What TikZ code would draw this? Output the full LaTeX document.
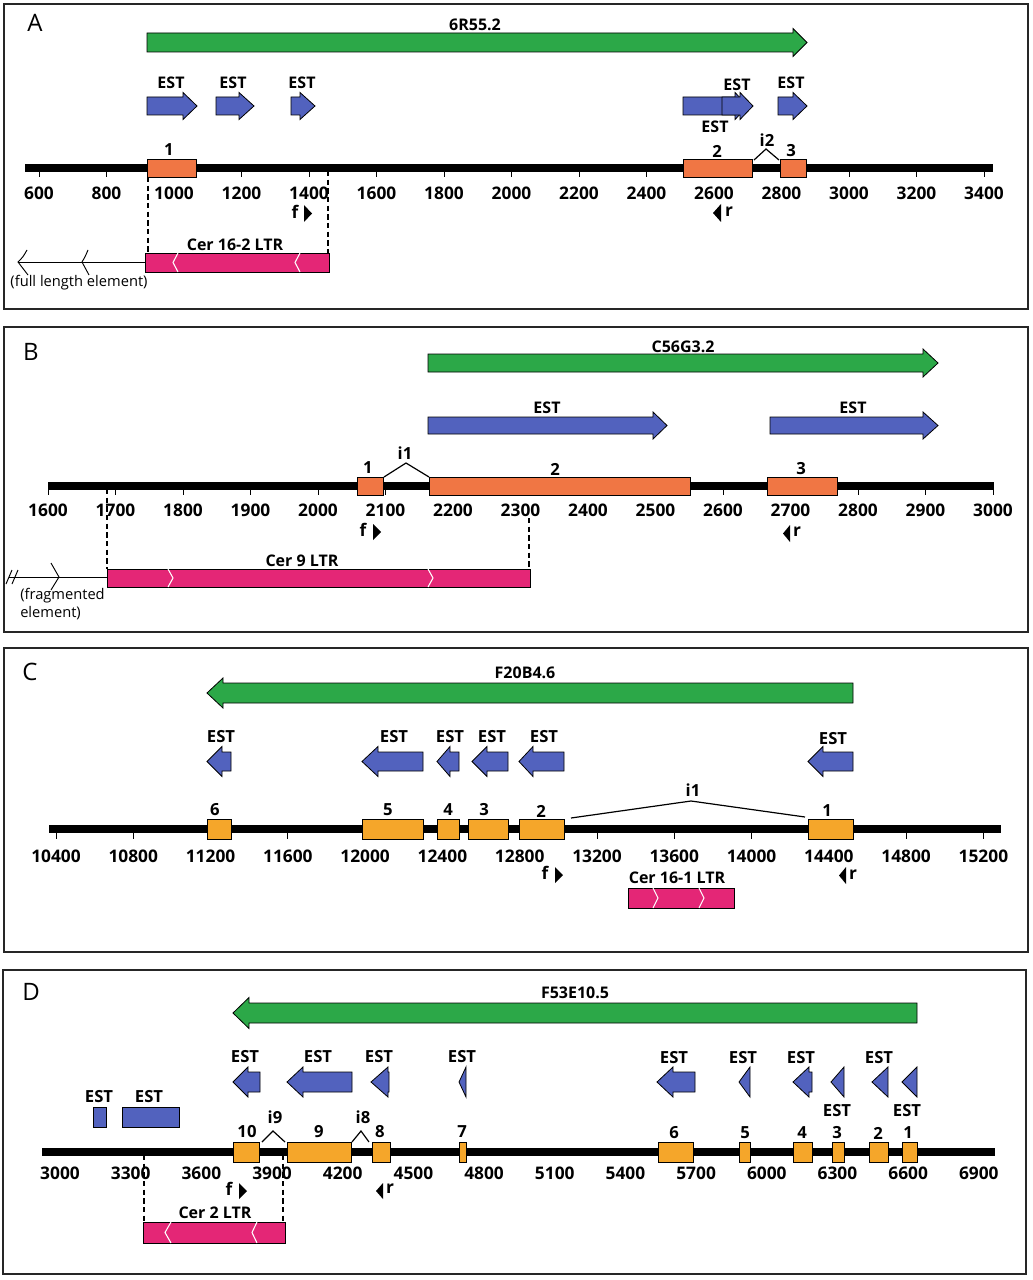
\documentclass[tikz,border=0pt]{standalone}
\usepackage{fontspec}
\setmainfont{Open Sans}
\definecolor{genec}{RGB}{44,168,72}
\definecolor{estc}{RGB}{82,98,190}
\definecolor{exa}{RGB}{240,118,68}
\definecolor{exc}{RGB}{245,166,42}
\definecolor{ltrc}{RGB}{228,38,118}
\newcommand\GArr[7][]{%
 \draw[#1] (#2,#5-#6) -- (#3,#5-#6) -- (#3,#5-#7) -- (#4,#5) -- (#3,#5+#7) -- (#3,#5+#6) -- (#2,#5+#6) -- cycle;}
\tikzset{
 frame/.style={line width=1.3pt, draw=black!85},
 gene/.style={fill=genec, draw=black, line width=0.6pt},
 est/.style={fill=estc, draw=black, line width=0.6pt},
 exonA/.style={fill=exa, draw=black, line width=0.5pt},
 exonC/.style={fill=exc, draw=black, line width=0.5pt},
 ltr/.style={fill=ltrc, draw=black, line width=0.5pt},
 chev/.style={draw=white, line width=0.8pt},
 chrom/.style={line width=5.3pt, line cap=butt},
 tickm/.style={line width=0.6pt},
 intron/.style={line width=0.9pt},
 dashv/.style={dashed, line width=0.9pt, dash pattern=on 4pt off 2.5pt},
 thinl/.style={line width=0.7pt},
 plabel/.style={font=\fontsize{18}{18}\selectfont, inner sep=0pt},
 num/.style={font=\bfseries\fontsize{13}{13}\selectfont, inner sep=0pt},
 estl/.style={font=\bfseries\fontsize{12}{12}\selectfont, inner sep=0pt},
 estd/.style={font=\bfseries\fontsize{12.5}{12}\selectfont, inner sep=0pt},
 exl/.style={font=\bfseries\fontsize{12.5}{12}\selectfont, inner sep=0pt},
 gname/.style={font=\bfseries\fontsize{12}{12}\selectfont, inner sep=0pt},
 prim/.style={font=\bfseries\fontsize{13}{12}\selectfont, inner sep=0pt},
 ltrl/.style={font=\bfseries\fontsize{12}{12}\selectfont, inner sep=0pt},
 eleml/.style={font=\fontsize{11}{13.5}\selectfont, inner sep=0pt}
}
\begin{document}
\begin{tikzpicture}[x=0.75pt,y=-0.75pt]
\useasboundingbox (0,0) rectangle (1032,1280);
% ================= Panel A =================
\draw[frame] (4,4) rectangle (1028,309);
\node[plabel] (labA) at (35,23) {A};
\GArr[gene]{147}{793}{807}{42.5}{9.5}{14}
\node[gname] (gA) at (475,25) {6R55.2};
\GArr[est]{147}{183}{197}{106}{9}{13.5}
\GArr[est]{216}{239}{254}{106}{9}{13.5}
\GArr[est]{291}{300}{315}{106}{9}{13.5}
\GArr[est]{683}{735}{748}{106}{9}{13.5}
\GArr[est]{722}{740}{753}{106}{9}{13.5}
\GArr[est]{778}{793}{807}{106}{9}{13.5}
\node[estl] (eA1) at (171,83) {EST};
\node[estl] (eA2) at (233,83) {EST};
\node[estl] (eA3) at (302,83) {EST};
\node[estl] (eA4) at (737,85) {EST};
\node[estl] (eA5) at (715,127) {EST};
\node[estl] (eA6) at (791,83) {EST};
\draw[chrom] (25,168) -- (993,168);
\foreach \v in {600,800,...,3400} {
  \pgfmathsetmacro\xx{39+(\v-600)*0.3375}
  \draw[tickm] (\xx,171) -- (\xx,177);
  \node[num] (nA\v) at (\xx,193) {\v};
}
\draw[exonA] (147,159) rectangle (196,177);
\draw[exonA] (683,159) rectangle (752,177);
\draw[exonA] (780,159) rectangle (806,177);
\node[exl] (xA1) at (169,150) {1};
\node[exl] (xA2) at (717,151) {2};
\node[exl] (xA3) at (791,151) {3};
\draw[intron] (754,160) -- (766,149) -- (779,160);
\node[exl] (iA2) at (767,140) {i2};
\node[prim] (fA) at (295,212) {f};
\fill (304,205) -- (312,213.5) -- (304,222) -- cycle;
\fill (721,204) -- (713,213) -- (721,222) -- cycle;
\node[prim] (rA) at (729,212) {r};
\draw[dashv] (148,177) -- (148,253);
\draw[dashv] (328,171) -- (328,253);
\draw[ltr] (145,253) rectangle (329,272);
\draw[chev] (178,253) -- (173,262.5) -- (178,272);
\draw[chev] (300,253) -- (295,262.5) -- (300,272);
\node[ltrl] (ltrA) at (235,245) {Cer 16-2 LTR};
\draw[thinl] (19,262) -- (145,262);
\draw[thinl] (27,250) .. controls (23,257) .. (18,262) .. controls (23,268) .. (28,275);
\draw[thinl] (88,250) .. controls (85,257) .. (82,262) .. controls (85,268) .. (89,275);
\node[eleml] (elA) at (79,283) {(full length element)};
% ================= Panel B =================
\draw[frame] (4,327) rectangle (1028,632);
\node[plabel] (labB) at (31,352) {B};
\GArr[gene]{428}{923}{938}{363}{9}{14}
\node[gname] (gB) at (683,347) {C56G3.2};
\GArr[est]{428}{653}{667}{425.5}{8.5}{13.5}
\GArr[est]{770}{923}{938}{425.5}{8.5}{13.5}
\node[estl] (eB1) at (547,408) {EST};
\node[estl] (eB2) at (853,408) {EST};
\draw[chrom] (48,486) -- (994,486);
\foreach \v in {1600,1700,...,3000} {
  \pgfmathsetmacro\xx{48+(\v-1600)*0.675}
  \draw[tickm] (\xx,489) -- (\xx,495);
  \node[num] (nB\v) at (\xx,510) {\v};
}
\draw[exonA] (357,477) rectangle (383,495);
\draw[exonA] (429,477) rectangle (690,495);
\draw[exonA] (767,477) rectangle (837,495);
\node[exl] (xB1) at (368,468) {1};
\node[exl] (xB2) at (555,469) {2};
\node[exl] (xB3) at (801,469) {3};
\draw[intron] (384,477) -- (406,463) -- (429,477);
\node[exl] (iB1) at (405,453) {i1};
\node[prim] (fB) at (363,530) {f};
\fill (373,524) -- (381,532) -- (373,540) -- cycle;
\fill (790,525) -- (783,533.5) -- (790,542) -- cycle;
\node[prim] (rB) at (797,532) {r};
\draw[dashv] (107,489) -- (107,569);
\draw[dashv] (529,518) -- (529,569);
\draw[ltr] (107,569) rectangle (530,587);
\draw[chev] (168,569) -- (173,578) -- (168,587);
\draw[chev] (428,569) -- (433,578) -- (428,587);
\node[ltrl] (ltrB) at (302,561) {Cer 9 LTR};
\draw[thinl] (9,577) -- (107,577);
\draw[thinl] (6,584) -- (12,570);
\draw[thinl] (12,584) -- (18,570);
\draw[thinl] (51,563) .. controls (55,570) .. (59,577) .. controls (55,584) .. (51,590);
\node[eleml, align=left, anchor=north west] (elB) at (20,588) {(fragmented\\element)};
% ================= Panel C =================
\draw[frame] (4,648) rectangle (1028,952);
\node[plabel] (labC) at (30,672) {C};
\GArr[gene]{853}{223}{207}{693}{10}{15}
\node[gname] (gC) at (525,673) {F20B4.6};
\GArr[est]{231}{222}{207}{761.5}{9.5}{15}
\GArr[est]{423}{378}{362}{761.5}{9.5}{15}
\GArr[est]{459}{450}{437}{761.5}{9.5}{15}
\GArr[est]{508}{487}{472}{761.5}{9.5}{15}
\GArr[est]{564}{533}{519}{761.5}{9.5}{15}
\GArr[est]{853}{823}{808}{761.5}{9.5}{15}
\node[estd] (eC1) at (221,737) {EST};
\node[estd] (eC2) at (394,737) {EST};
\node[estd] (eC3) at (450,737) {EST};
\node[estd] (eC4) at (492,737) {EST};
\node[estd] (eC5) at (544,737) {EST};
\node[estd] (eC6) at (833,739) {EST};
\draw[chrom] (49,829) -- (1001,829);
\foreach \v in {10400,10800,...,15200} {
  \pgfmathsetmacro\xx{56+(\v-10400)*0.1932}
  \draw[tickm] (\xx,832) -- (\xx,839);
  \node[num] (nC\v) at (\xx,856) {\v};
}
\draw[exonC] (207,819) rectangle (231,839);
\draw[exonC] (362,819) rectangle (423,839);
\draw[exonC] (437,819) rectangle (459,839);
\draw[exonC] (468,819) rectangle (508,839);
\draw[exonC] (519,819) rectangle (564,839);
\draw[exonC] (808,819) rectangle (853,839);
\node[estd] (xC6) at (215,810) {6};
\node[estd] (xC5) at (388,810) {5};
\node[estd] (xC4) at (448,810) {4};
\node[estd] (xC3) at (484,810) {3};
\node[estd] (xC2) at (541,811) {2};
\node[estd] (xC1) at (827,811) {1};
\draw[intron] (571,818) -- (691,801) -- (805,817);
\node[estd] (iC1) at (693,790) {i1};
\node[prim] (fC) at (545,873) {f};
\fill (555,867) -- (563,875) -- (555,883) -- cycle;
\fill (846,867) -- (839,875.5) -- (846,884) -- cycle;
\node[prim] (rC) at (853,875) {r};
\draw[ltr] (628,888) rectangle (734,908);
\draw[chev] (653,888) -- (658,898) -- (653,908);
\draw[chev] (699,888) -- (704,898) -- (699,908);
\node[ltrl] (ltrC) at (677,878) {Cer 16-1 LTR};
% ================= Panel D =================
\draw[frame] (3,970) rectangle (1026,1274);
\node[plabel] (labD) at (31,992) {D};
\GArr[gene]{917}{249}{233}{1013}{10}{15.5}
\node[gname] (gD) at (575,993) {F53E10.5};
\GArr[est]{260}{248}{233}{1082}{10}{15}
\GArr[est]{352}{303}{287}{1082}{10}{15}
\GArr[est]{389}{388}{371}{1082}{10}{15}
\GArr[est]{466}{466}{459}{1082}{10}{15}
\GArr[est]{695}{673}{657}{1082}{10}{15}
\GArr[est]{750}{750}{739}{1082}{10}{15}
\GArr[est]{812}{809}{793}{1082}{10}{15}
\GArr[est]{844}{844}{831}{1082}{10}{15}
\GArr[est]{888}{888}{872}{1082}{10}{15}
\GArr[est]{917}{917}{902}{1082}{10}{15}
\node[estd] (eD1) at (245,1057) {EST};
\node[estd] (eD2) at (318,1057) {EST};
\node[estd] (eD3) at (379,1057) {EST};
\node[estd] (eD4) at (462,1057) {EST};
\node[estd] (eD5) at (674,1058) {EST};
\node[estd] (eD6) at (743,1058) {EST};
\node[estd] (eD7) at (801,1058) {EST};
\node[estd] (eD8) at (837,1111) {EST};
\node[estd] (eD9) at (879,1058) {EST};
\node[estd] (eD10) at (907,1111) {EST};
\draw[est] (93,1107) rectangle (106,1127);
\draw[est] (122,1107) rectangle (179,1127);
\node[estd] (eD11) at (99,1097) {EST};
\node[estd] (eD12) at (149,1097) {EST};
\draw[chrom] (42,1152) -- (995,1152);
\foreach \v in {3000,3300,...,6900} {
  \pgfmathsetmacro\xx{60+(\v-3000)*0.2356}
  \node[num] (nD\v) at (\xx,1173) {\v};
}
\draw[exonC] (233,1142) rectangle (259,1162);
\draw[exonC] (287,1142) rectangle (351,1162);
\draw[exonC] (372,1142) rectangle (390,1162);
\draw[exonC] (459,1142) rectangle (466,1162);
\draw[exonC] (658,1142) rectangle (693,1162);
\draw[exonC] (739,1142) rectangle (750,1162);
\draw[exonC] (793,1142) rectangle (812,1162);
\draw[exonC] (832,1142) rectangle (844,1162);
\draw[exonC] (869,1142) rectangle (888,1162);
\draw[exonC] (902,1142) rectangle (917,1162);
\node[estd] (xD10) at (247,1132) {10};
\node[estd] (xD9) at (319,1132) {9};
\node[estd] (xD8) at (380,1132) {8};
\node[estd] (xD7) at (462,1132) {7};
\node[estd] (xD6) at (674,1133) {6};
\node[estd] (xD5) at (745,1133) {5};
\node[estd] (xD4) at (802,1133) {4};
\node[estd] (xD3) at (837,1133) {3};
\node[estd] (xD2) at (878,1133) {2};
\node[estd] (xD1) at (908,1133) {1};
\draw[intron] (262,1142) -- (273,1131) -- (285,1142);
\draw[intron] (352,1142) -- (361,1131) -- (369,1142);
\node[estd] (iD9) at (275,1117) {i9};
\node[estd] (iD8) at (363,1117) {i8};
\node[prim] (fD) at (229,1189) {f};
\fill (239,1183) -- (247,1191) -- (239,1199) -- cycle;
\fill (383,1183) -- (376,1191) -- (383,1199) -- cycle;
\node[prim] (rD) at (390,1189) {r};
\draw[dashv] (144,1155) -- (144,1222);
\draw[dashv] (283,1155) -- (283,1222);
\draw[ltr] (143,1222) rectangle (285,1243);
\draw[chev] (171,1222) -- (165,1232.5) -- (171,1243);
\draw[chev] (257,1222) -- (252,1232.5) -- (257,1243);
\node[ltrl] (ltrD) at (215,1213) {Cer 2 LTR};
\end{tikzpicture}
\end{document}
